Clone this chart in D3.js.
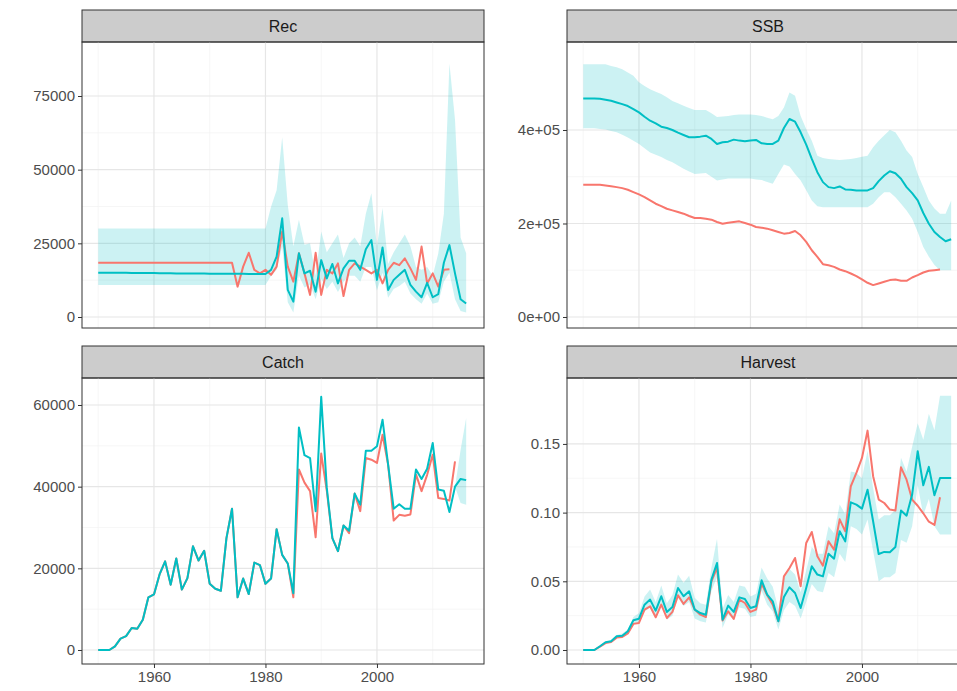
<!DOCTYPE html>
<html>
<head>
<meta charset="utf-8">
<script src="https://cdn.jsdelivr.net/npm/d3@7"></script>
<style>
  body { margin: 0; background: #fff; }
  text { font-family: "Liberation Sans", Arial, sans-serif; }
</style>
</head>
<body>
<div id="chart"></div>
<script>
"use strict"

const years = d3.range(1950, 2017)

// Rec
const recObs = [18400,18400,18400,18400,18400,18400,18400,18400,18400,18400,18400,18400,18400,18400,18400,18400,18400,18400,18400,18400,18400,18400,18400,18400,18400,10300,17100,21800,16000,14800,16000,14300,17100,29000,17100,12000,21600,14800,7500,21800,7500,16000,14800,18200,7100,16000,18200,17100,16000,14800,16000,11400,16000,18400,17600,19900,16500,12600,23900,11400,14800,10300,16000,16200]
const recEst = [15000,15000,15000,15000,15000,15000,14950,14950,14900,14900,14900,14850,14850,14850,14800,14800,14800,14750,14750,14750,14700,14700,14700,14700,14650,14650,14650,14600,14600,14600,14600,16000,20500,33500,9200,5200,21600,14800,15700,8600,19300,13100,18000,11400,16500,19100,19100,16000,23000,26100,12600,23600,9200,12600,14300,16000,10900,8600,6700,11600,6700,7800,18400,24400,14800,6000,4600]
const recHi = [30000,30000,30000,30000,30000,30000,30000,30000,30000,30000,30000,30000,30000,30000,30000,30000,30000,30000,30000,30000,30000,30000,30000,30000,30000,30000,30000,30000,30000,30000,30000,37400,43000,61000,38000,24000,33000,24500,25000,14000,29000,22000,25000,28000,20000,25000,27000,24000,35000,42000,24000,37000,18000,22000,25000,28000,24000,17000,16000,17000,14000,21600,35000,86000,67000,27000,21600]
const recLo = [10900,10900,10900,10900,10900,10900,10900,10900,10900,10900,10900,10900,10900,10900,10900,10900,10900,10900,10900,10900,10900,10900,10900,10900,10900,10900,10900,10900,10900,10900,10900,14000,16000,24000,5000,1500,14000,10000,11000,6000,13000,9500,12000,8500,12000,14000,14000,12000,17000,17000,9000,15000,6500,9500,10500,12000,8000,6000,4500,8000,4500,5000,12000,15000,6000,2000,1500]

// SSB
const ssbObs = [282800,282800,282800,282800,281400,279900,277800,275700,272100,267100,262200,256500,249400,242300,237300,231600,228100,224500,221000,216000,211700,211700,210300,208200,203200,199600,201800,203200,204600,201100,197500,192500,191100,189000,185400,181900,178300,179700,184000,174800,160600,142800,128600,113000,110800,107300,101600,98000,93100,87400,80300,73200,68200,71800,75300,78900,80300,77400,77400,84500,89500,95200,98800,100200,101600]
const ssbEst = [467500,467500,467500,466800,464700,462500,459000,455400,451200,444800,437700,428400,419900,414200,407100,404300,400000,394300,389400,384400,384400,385800,387900,380800,370200,373700,375100,379400,377300,375900,377300,378700,371600,370200,370200,377300,404300,423500,417800,395000,368700,338200,309800,288500,277800,275700,279200,272800,272100,270700,270700,270700,275700,290600,302700,311900,307600,295600,277800,265000,249400,222400,199600,181900,171200,162000,166300]
const ssbHi = [540700,540700,540700,540700,540700,537000,534000,530000,523000,516000,502000,494000,487000,482000,477000,470000,462000,457000,452000,447000,443000,443000,443000,436000,428000,429000,430000,432000,433000,433000,433000,432000,430000,426000,423000,430000,448000,480000,473000,430000,402000,377000,345000,340000,338000,337000,336000,337000,338000,340000,343000,345000,363000,377000,389000,400000,395000,377000,356000,342000,306000,278000,249000,232000,221000,221000,249000]
const ssbLo = [403600,403600,403600,402000,401000,398000,395000,390000,384000,377000,370000,361000,352000,347000,342000,336000,331000,324000,317000,311000,306000,307000,308000,300000,292000,294000,296000,296000,296000,296000,296000,294000,293000,289000,285000,306000,326000,322000,306000,292000,271000,249000,237000,235000,235000,235000,235000,235000,235000,235000,235000,235000,242000,256000,267000,267000,256000,242000,228000,210000,182000,150000,129000,111000,100000,100000,100000]

// Catch
const catchObs = [0,0,0,900,2800,3400,5400,5200,7400,12900,13600,18500,21700,16000,22400,14800,17600,25400,21900,24300,16200,15000,14500,27400,34600,12900,17500,13700,21400,20800,16200,17500,29600,23300,21200,12900,44200,41000,38900,27600,48100,39000,27400,24200,30500,28600,38300,34000,47000,46600,45800,52700,45400,31700,33100,32900,33200,43000,38900,42900,47800,37200,37000,36600,46200]
const catchEst = [0,0,0,900,2800,3400,5400,5200,7400,12900,13600,18500,21700,16000,22400,14800,17600,25400,21900,24300,16200,15000,14500,27400,34600,12900,17500,13700,21400,20800,16200,17500,29600,23300,21200,13900,54500,47700,47000,34000,62000,39700,27400,24200,30500,29200,38300,35600,48800,48800,49900,56400,45400,34600,35700,34600,34600,44200,41900,44400,50700,39300,39000,33800,40000,41900,41600]
const catchBandYears = [2014, 2015, 2016]
const catchHi = [40000, 49000, 56800]
const catchLo = [40000, 36000, 35600]

// Harvest
const harvObs = [0,0,0,.0024,.005,.0058,.009,.0095,.012,.019,.0197,.0294,.0318,.0238,.0330,.0233,.0277,.0398,.0335,.0383,.0294,.0257,.0240,.0500,.0597,.0214,.0282,.0226,.0366,.0342,.0277,.0294,.0481,.0398,.0330,.0209,.0536,.0597,.0670,.0464,.0779,.0859,.0682,.0614,.0791,.0730,.0951,.0864,.1192,.1289,.1398,.1597,.1265,.1095,.1070,.1022,.1015,.1330,.1240,.1095,.1050,.0995,.0934,.0910,.1112]
const harvEst = [0,0,0,.0027,.0056,.0063,.0100,.0104,.0136,.0216,.0228,.0330,.0367,.0286,.0391,.0277,.0313,.0451,.0391,.0427,.0294,.0269,.0257,.0512,.0633,.0221,.0323,.0277,.0383,.0371,.0306,.0318,.0507,.0403,.0354,.0209,.0386,.0456,.0415,.0306,.0451,.0609,.0549,.0536,.0701,.0665,.0864,.0791,.1075,.1058,.1029,.1167,.0937,.0699,.0714,.0711,.0750,.1015,.0978,.1131,.1447,.1199,.1333,.1126,.1252,.1252,.1252]
const harvHi = [0,0,0,.003,.006,.007,.011,.012,.015,.024,.027,.039,.044,.035,.047,.034,.040,.055,.049,.054,.038,.034,.033,.060,.081,.030,.040,.035,.047,.046,.039,.041,.060,.052,.046,.030,.052,.059,.055,.042,.058,.075,.070,.070,.090,.085,.106,.099,.130,.129,.125,.145,.118,.095,.098,.098,.102,.140,.130,.148,.165,.153,.172,.160,.185,.185,.185]
const harvLo = [0,0,0,.002,.005,.006,.009,.0095,.012,.019,.019,.028,.031,.023,.033,.022,.025,.038,.032,.035,.023,.021,.020,.043,.053,.016,.026,.022,.031,.030,.024,.025,.043,.033,.028,.015,.029,.035,.032,.023,.035,.048,.043,.042,.056,.053,.070,.064,.090,.088,.084,.095,.072,.050,.053,.053,.056,.080,.078,.090,.120,.098,.110,.090,.084,.084,.084]

const xTicks = [1960, 1980, 2000]
const xMinor = [1950, 1970, 1990, 2010]

const RED = "#F8766D", TEAL = "#00BFC4"
const W = 957, H = 691
const PW = 402, STRIP = 32

const panels = [
  { title: "Rec", x: 82, top: 10, obs: recObs, est: recEst, bandYears: years, hi: recHi, lo: recLo,
    domain: [-3733, 93326], ticks: [0, 25000, 50000, 75000], fmt: d => d, bottomAxis: false },
  { title: "SSB", x: 567, top: 10, obs: ssbObs, est: ssbEst, bandYears: years, hi: ssbHi, lo: ssbLo,
    domain: [-23530, 588235], ticks: [0, 200000, 400000], fmt: d => d === 0 ? "0e+00" : (d / 1e5) + "e+05", bottomAxis: false },
  { title: "Catch", x: 82, top: 346, obs: catchObs, est: catchEst, bandYears: catchBandYears, hi: catchHi, lo: catchLo,
    domain: [-3429, 66612], ticks: [0, 20000, 40000, 60000], fmt: d => d, bottomAxis: true },
  { title: "Harvest", x: 567, top: 346, obs: harvObs, est: harvEst, bandYears: years, hi: harvHi, lo: harvLo,
    domain: [-0.0102, 0.198], ticks: [0, 0.05, 0.10, 0.15], fmt: d3.format(".2f"), bottomAxis: true }
]

const svg = d3.select("#chart").append("svg").attr("width", W).attr("height", H)

panels.forEach(p => {
  const g = svg.append("g").attr("transform", `translate(${p.x},${p.top})`)
  const ph = 286
  const x = d3.scaleLinear().domain([1947.09, 2019.2]).range([0, PW])
  const y = d3.scaleLinear().domain(p.domain).range([STRIP + ph, STRIP])

  // strip
  g.append("rect").attr("x", 0).attr("y", 0).attr("width", PW).attr("height", STRIP)
    .attr("fill", "#cccccc").attr("stroke", "#333").attr("stroke-width", 1)
  g.append("text").attr("x", PW / 2).attr("y", STRIP / 2 + 6).attr("text-anchor", "middle")
    .attr("font-size", 16).attr("fill", "#1a1a1a").text(p.title)

  // grid
  const minorY = d3.pairs(p.ticks).map(([a, b]) => (a + b) / 2)
  const grid = g.append("g")
  grid.selectAll(".ym").data(minorY).join("line")
    .attr("x1", 0).attr("x2", PW).attr("y1", d => y(d)).attr("y2", d => y(d))
    .attr("stroke", "#f2f2f2").attr("stroke-width", 0.7)
  grid.selectAll(".xm").data(xMinor).join("line")
    .attr("x1", d => x(d)).attr("x2", d => x(d)).attr("y1", STRIP).attr("y2", STRIP + ph)
    .attr("stroke", "#f2f2f2").attr("stroke-width", 0.7)
  grid.selectAll(".yM").data(p.ticks).join("line")
    .attr("x1", 0).attr("x2", PW).attr("y1", d => y(d)).attr("y2", d => y(d))
    .attr("stroke", "#e6e6e6").attr("stroke-width", 1.2)
  grid.selectAll(".xM").data(xTicks).join("line")
    .attr("x1", d => x(d)).attr("x2", d => x(d)).attr("y1", STRIP).attr("y2", STRIP + ph)
    .attr("stroke", "#e6e6e6").attr("stroke-width", 1.2)

  // band
  const band = p.bandYears.map((yr, i) => ({ yr, hi: p.hi[i], lo: p.lo[i] }))
  g.append("path").attr("d", d3.area().x(d => x(d.yr)).y0(d => y(d.lo)).y1(d => y(d.hi))(band))
    .attr("fill", TEAL).attr("fill-opacity", 0.2)

  const line = d3.line().x(d => x(d.yr)).y(d => y(d.v))
  g.append("path").attr("d", line(p.obs.map((v, i) => ({ yr: years[i], v }))))
    .attr("fill", "none").attr("stroke", RED).attr("stroke-width", 2).attr("stroke-linejoin", "round")
  g.append("path").attr("d", line(p.est.map((v, i) => ({ yr: years[i], v }))))
    .attr("fill", "none").attr("stroke", TEAL).attr("stroke-width", 2).attr("stroke-linejoin", "round")

  // border
  g.append("rect").attr("x", 0).attr("y", STRIP).attr("width", PW).attr("height", ph)
    .attr("fill", "none").attr("stroke", "#333").attr("stroke-width", 1)

  // y axis
  const ya = g.append("g").call(d3.axisLeft(y).tickValues(p.ticks).tickFormat(p.fmt).tickSize(4).tickPadding(3))
  ya.select(".domain").remove()
  ya.selectAll("line").attr("stroke", "#333")
  ya.selectAll("text").attr("font-size", 15).attr("fill", "#4d4d4d")
    .attr("font-family", "Liberation Sans, Arial, sans-serif")

  if (p.bottomAxis) {
    const xa = g.append("g").attr("transform", `translate(0,${STRIP + ph})`)
      .call(d3.axisBottom(x).tickValues(xTicks).tickFormat(d3.format("d")).tickSize(4).tickPadding(3))
    xa.select(".domain").remove()
    xa.selectAll("line").attr("stroke", "#333")
    xa.selectAll("text").attr("font-size", 15).attr("fill", "#4d4d4d")
      .attr("font-family", "Liberation Sans, Arial, sans-serif")
  }
})
</script>
</body>
</html>
